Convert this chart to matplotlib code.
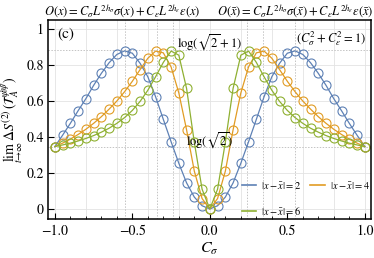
import numpy as np
import matplotlib
matplotlib.use("Agg")
import matplotlib.pyplot as plt

plt.rcParams['font.family'] = ['STIXGeneral', 'DejaVu Serif']
plt.rcParams['mathtext.fontset'] = 'stix'

c_sigma = [-1.0, -0.95, -0.9, -0.85, -0.8, -0.75, -0.7, -0.65, -0.6, -0.55, -0.5,
           -0.45, -0.4, -0.35, -0.3, -0.25, -0.2, -0.15, -0.1, -0.05, 0.0,
           0.05, 0.1, 0.15, 0.2, 0.25, 0.3, 0.35, 0.4, 0.45, 0.5,
           0.55, 0.6, 0.65, 0.7, 0.75, 0.8, 0.85, 0.9, 0.95, 1.0]

d2 = [0.347, 0.410, 0.476, 0.546, 0.613, 0.687, 0.754, 0.813, 0.859, 0.879, 0.866,
      0.810, 0.735, 0.624, 0.498, 0.374, 0.254, 0.145, 0.066, 0.018, 0.000,
      0.018, 0.066, 0.145, 0.254, 0.374, 0.498, 0.624, 0.735, 0.810, 0.866,
      0.879, 0.859, 0.813, 0.754, 0.687, 0.613, 0.546, 0.476, 0.410, 0.347]

d4 = [0.347, 0.366, 0.388, 0.414, 0.443, 0.476, 0.513, 0.555, 0.600, 0.652, 0.710,
      0.775, 0.838, 0.878, 0.868, 0.790, 0.645, 0.440, 0.210, 0.058, 0.000,
      0.058, 0.210, 0.440, 0.645, 0.790, 0.868, 0.878, 0.838, 0.775, 0.710,
      0.652, 0.600, 0.555, 0.513, 0.476, 0.443, 0.414, 0.388, 0.366, 0.347]

d6 = [0.347, 0.356, 0.366, 0.378, 0.392, 0.408, 0.427, 0.449, 0.476, 0.508, 0.548,
      0.598, 0.660, 0.735, 0.815, 0.878, 0.855, 0.670, 0.370, 0.110, 0.000,
      0.110, 0.370, 0.670, 0.855, 0.878, 0.815, 0.735, 0.660, 0.598, 0.548,
      0.508, 0.476, 0.449, 0.427, 0.408, 0.392, 0.378, 0.366, 0.356, 0.347]

series_labels = [r'$|x-\bar{x}|=2$', r'$|x-\bar{x}|=4$', r'$|x-\bar{x}|=6$']
peak_positions = [-0.548, -0.342, -0.239, 0.239, 0.342, 0.548]
ref_levels = [np.log(np.sqrt(2)), np.log(np.sqrt(2) + 1)]

colors = ['#5E81B5', '#E19C24', '#8FB032']

fig = plt.figure(figsize=(3.74, 2.58), dpi=100)
ax = fig.add_axes([0.128, 0.151, 0.864, 0.771])

# grid
for gx in np.arange(-1.0, 1.01, 0.2):
    ax.axvline(gx, color='#e3e3e3', lw=0.6, zorder=0)
for gy in np.arange(0.0, 1.01, 0.2):
    ax.axhline(gy, color='#e3e3e3', lw=0.6, zorder=0)
for px in peak_positions:
    ax.axvline(px, color='#c4c4c4', lw=0.7, ls=(0, (1.5, 1.5)), zorder=0.5)
for ry in ref_levels:
    ax.axhline(ry, color='#c4c4c4', lw=0.7, ls=(0, (1.5, 1.5)), zorder=0.5)

handles = []
for ys, col, lab in zip([d2, d4, d6], colors, series_labels):
    ax.plot(c_sigma, ys, color=col, lw=0.9, marker='o', ms=6.5,
            mfc='none', mec=col, mew=0.8, zorder=2)
    h, = ax.plot([], [], color=col, lw=1.2, label=lab)
    handles.append(h)

ax.set_xlim(-1.045, 1.04)
ax.set_ylim(-0.056, 1.05)
ax.set_xticks([-1.0, -0.5, 0.0, 0.5, 1.0])
ax.set_xticklabels(['−1.0', '−0.5', '0.0', '0.5', '1.0'])
ax.set_xticks(np.arange(-1.0, 1.01, 0.1), minor=True)
ax.set_yticks([0, 0.2, 0.4, 0.6, 0.8, 1.0])
ax.set_yticklabels(['0', '0.2', '0.4', '0.6', '0.8', '1'])
ax.tick_params(direction='in', length=4, width=0.8, labelsize=10, pad=4)
ax.tick_params(axis='y', pad=3)
ax.tick_params(which='minor', direction='in', length=2.2, width=0.6)
for s in ax.spines.values():
    s.set_linewidth(1.1)

ax.set_xlabel(r'$C_\sigma$', fontsize=11.5, labelpad=2)
ax.set_ylabel(r'$\lim_{t\to\infty}\,\Delta S^{(2)}(\mathcal{T}_A^{\psi|\bar{\psi}})$',
              fontsize=10)
ax.yaxis.set_label_coords(-0.072, 0.5)

ax.text(0.03, 0.965, '(c)', transform=ax.transAxes, fontsize=11,
        ha='left', va='top')
ax.text(0.985, 0.955, r'$(C_\sigma^2+C_\varepsilon^2=1)$', transform=ax.transAxes,
        fontsize=9, ha='right', va='top')
ax.text(0.0, 0.925, r'$\log(\sqrt{2}+1)$', fontsize=9, ha='center', va='center')
ax.text(0.0, 0.38, r'$\log(\sqrt{2})$', fontsize=9, ha='center', va='center')

fig.text(0.328, 0.957,
         r'$O(x)=C_\sigma L^{2h_\sigma}\sigma(x)+C_\varepsilon L^{2h_\varepsilon}\varepsilon(x)$',
         fontsize=9, ha='center', va='center')
fig.text(0.789, 0.957,
         r'$O(\bar{x})=C_\sigma L^{2h_\sigma}\sigma(\bar{x})+C_\varepsilon L^{2h_\varepsilon}\varepsilon(\bar{x})$',
         fontsize=9, ha='center', va='center')

leg = ax.legend([handles[0], handles[2], handles[1]],
                [series_labels[0], series_labels[2], series_labels[1]],
                ncol=2, loc='upper left', bbox_to_anchor=(0.632, 0.322),
                bbox_transform=fig.transFigure, frameon=False, fontsize=7.5,
                borderpad=0, handlelength=1.4, handletextpad=0.5,
                columnspacing=0.8, labelspacing=1.3)

fig.savefig('out.png', dpi=100)
